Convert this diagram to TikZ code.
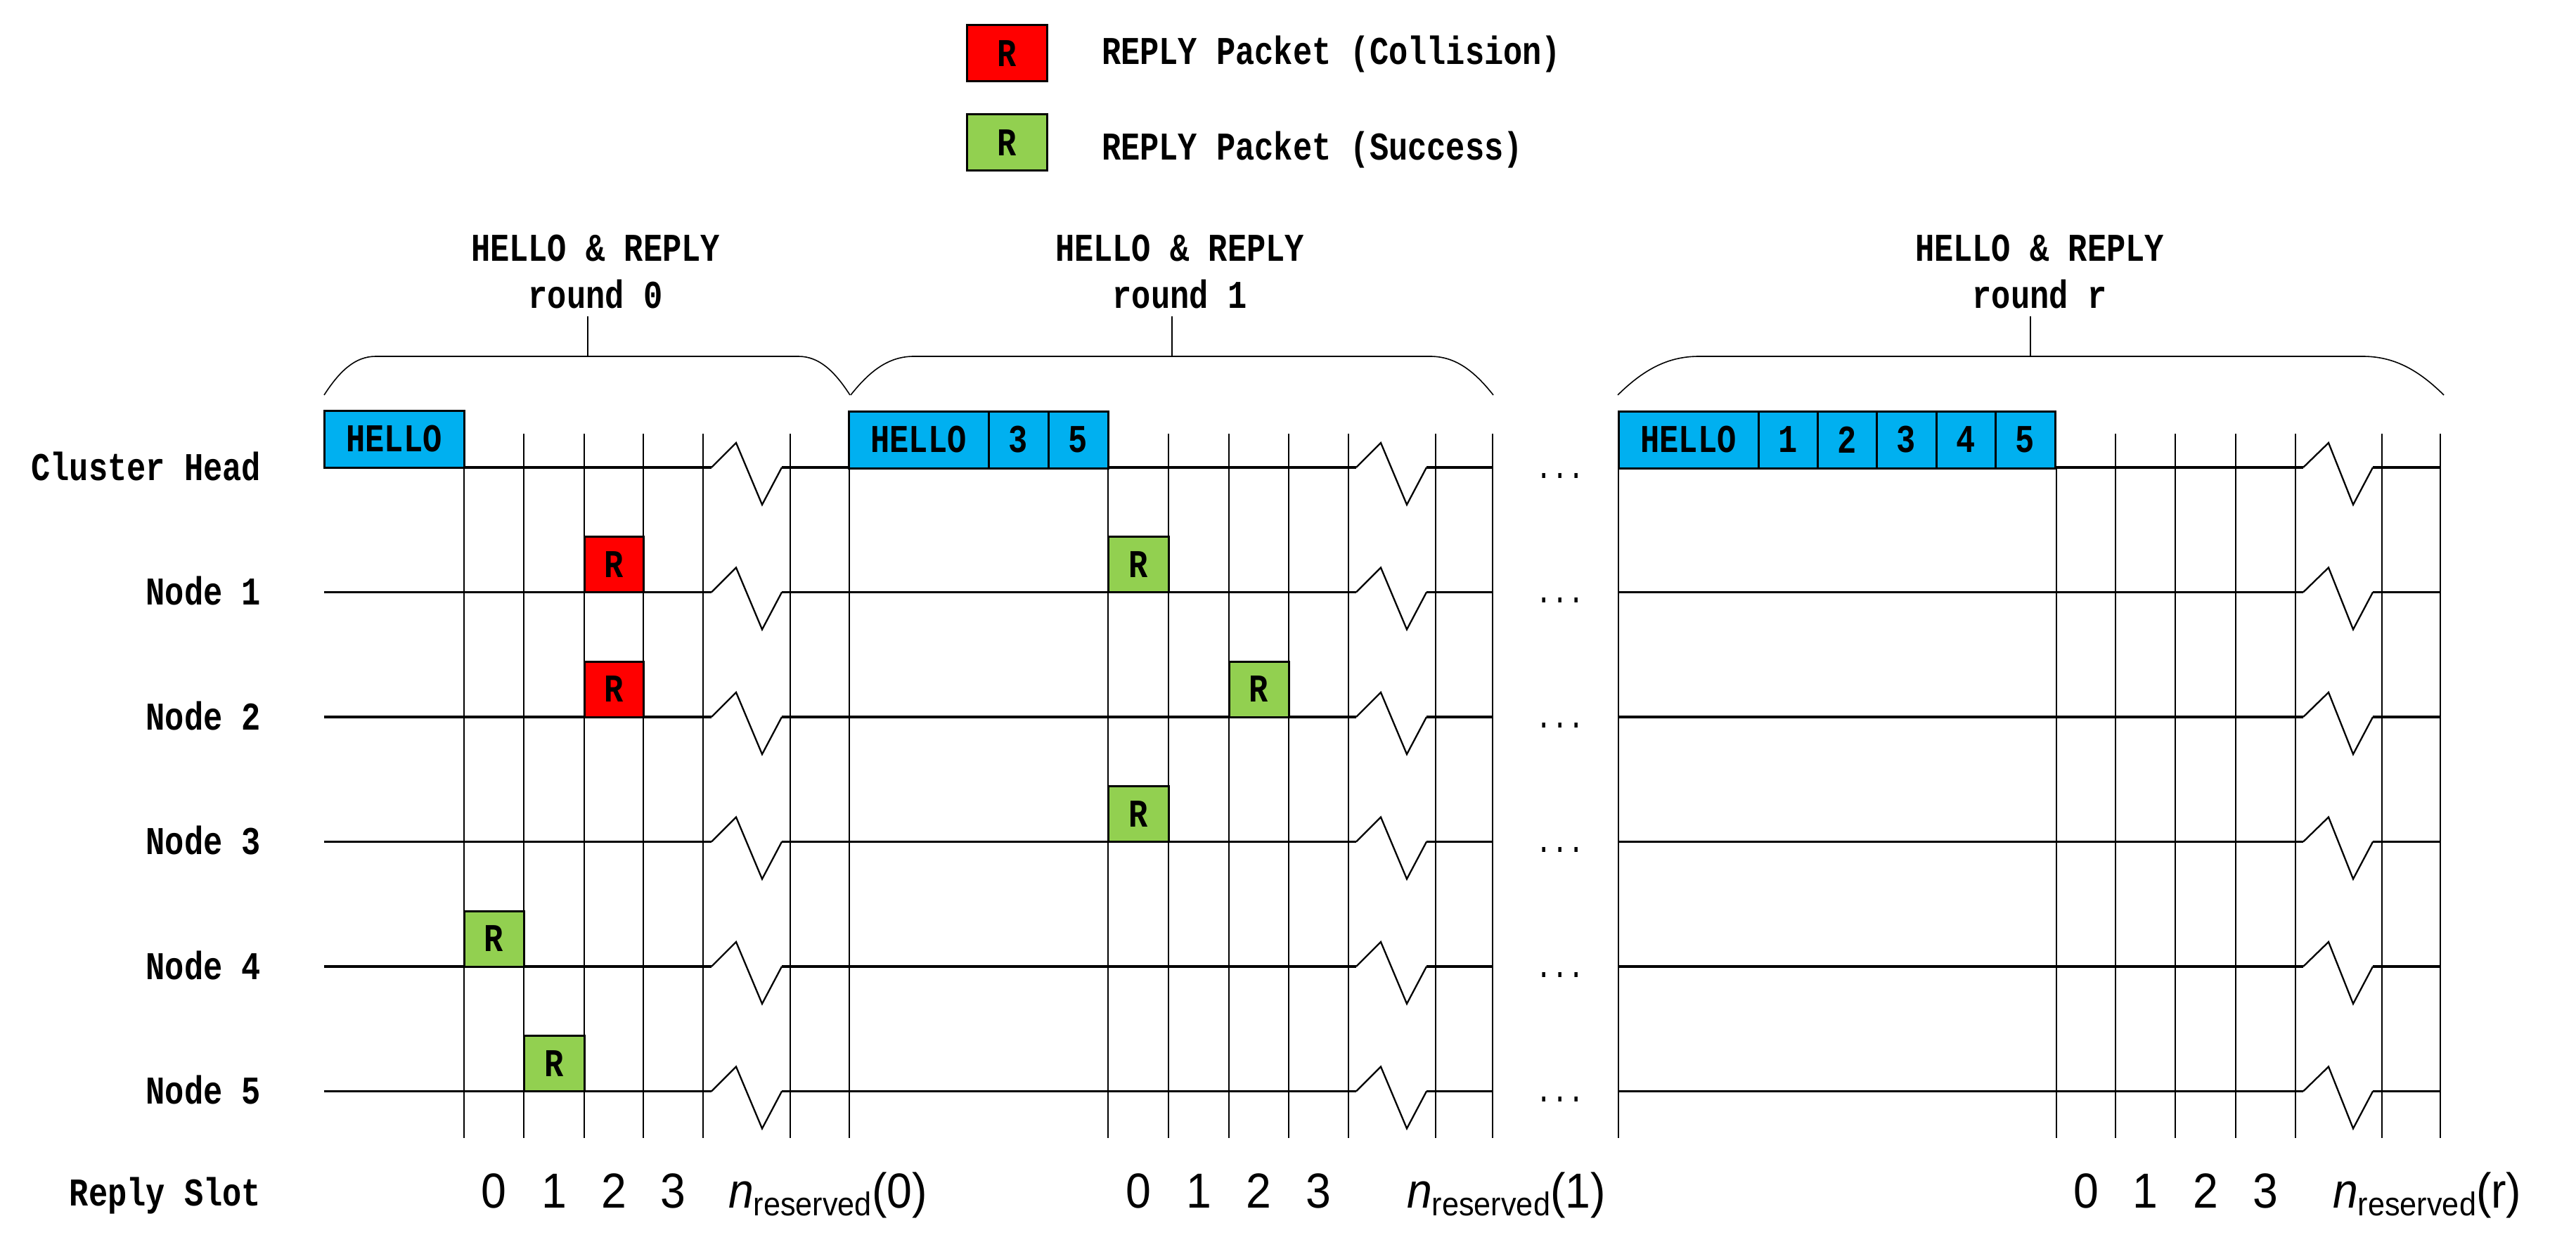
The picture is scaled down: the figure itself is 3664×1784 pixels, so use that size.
\documentclass[tikz,border=0pt]{standalone}
\usepackage{fontspec}
\newfontfamily\monof{Liberation Mono}[FakeStretch=0.81]
\newfontfamily\arlf{Liberation Sans}[FakeStretch=0.92]
\definecolor{hblue}{HTML}{00B0F0}
\definecolor{pred}{HTML}{FF0000}
\definecolor{pgreen}{HTML}{92D050}
\newcommand\roundbrace[3]{%
  \pgfmathsetmacro\dd{0.098*(#2-#1)}%
  \draw[bracel] (#1,562) .. controls ({#1+0.3*\dd},528) and ({#1+0.6*\dd},507) .. ({#1+\dd},507) -- ({#2-\dd},507) .. controls ({#2-0.6*\dd},507) and ({#2-0.3*\dd},528) .. (#2,562);
  \draw[bracel] (#3,450) -- (#3,507);}
\begin{document}
\begin{tikzpicture}[x=1pt,y=-1pt,
  txt/.style={font=\monof\bfseries\fontsize{56}{62}\selectfont, inner sep=0pt, outer sep=0pt},
  dig/.style={font=\arlf\fontsize{70}{72}\selectfont, inner sep=0pt, outer sep=0pt},
  hline/.style={line width=3.2pt},
  vline/.style={line width=2.6pt},
  zig/.style={line width=2.3pt, line join=miter},
  bracel/.style={line width=1.6pt},
  cell/.style={draw, line width=3pt, fill=hblue, minimum height=81pt, minimum width=85pt, inner sep=0pt, outer sep=0pt, anchor=south west, txt},
  pkt/.style={draw, line width=3pt, minimum height=79pt, minimum width=85pt, inner sep=0pt, outer sep=0pt, anchor=south west, txt},
  dotsl/.style={font=\monof\fontsize{48}{48}\selectfont, inner sep=0pt, anchor=base}
]
\useasboundingbox (0,0) rectangle (3664,1784);

% legend
\node[pkt, fill=pred, minimum width=114pt, minimum height=80pt, anchor=north west] (legred) at (1375,36) {R};
\node[pkt, fill=pgreen, minimum width=114pt, minimum height=80pt, anchor=north west] (leggreen) at (1375,163) {R};
\node[txt, anchor=base west] (legtxt1) at (1567,92) {REPLY Packet (Collision)};
\node[txt, anchor=base west] (legtxt2) at (1567,228) {REPLY Packet (Success)};

% titles
\node[txt, anchor=base] (t0a) at (847,372) {HELLO \& REPLY};
\node[txt, anchor=base] (t0b) at (847,438) {round 0};
\node[txt, anchor=base] (t1a) at (1678,372) {HELLO \& REPLY};
\node[txt, anchor=base] (t1b) at (1678,438) {round 1};
\node[txt, anchor=base] (tra) at (2901,372) {HELLO \& REPLY};
\node[txt, anchor=base] (trb) at (2901,438) {round r};

% braces
\roundbrace{461}{1209}{836}
\roundbrace{1210}{2124}{1667}
\roundbrace{2301}{3476}{2888}

% row labels
\node[txt, anchor=base east] (lch) at (371,683) {Cluster Head};
\node[txt, anchor=base east] (ln1) at (371,860.5) {Node 1};
\node[txt, anchor=base east] (ln2) at (371,1038) {Node 2};
\node[txt, anchor=base east] (ln3) at (371,1215.5) {Node 3};
\node[txt, anchor=base east] (ln4) at (371,1393) {Node 4};
\node[txt, anchor=base east] (ln5) at (371,1570.5) {Node 5};
\node[txt, anchor=base east] (lrs) at (371,1715) {Reply Slot};

% horizontal lines with zigzags
\foreach \y in {665,842.5,1020,1197.5,1375,1552.5} {
  \draw[hline] (461,\y) -- (1012,\y);
  \draw[zig] (1012,\y) -- (1047,{\y-35}) -- (1084,{\y+53}) -- (1112,\y);
  \draw[hline] (1112,\y) -- (1929,\y);
  \draw[zig] (1929,\y) -- (1964,{\y-35}) -- (2001,{\y+53}) -- (2029,\y);
  \draw[hline] (2029,\y) -- (2123,\y);
  \draw[hline] (2302,\y) -- (3276,\y);
  \draw[zig] (3276,\y) -- (3312,{\y-35}) -- (3347,{\y+53}) -- (3375,\y);
  \draw[hline] (3375,\y) -- (3471,\y);
  \node[dotsl] at (2219,{\y+15}) {...};
}

% vertical lines
\foreach \x in {745,831,915,1000,1124,1208,1662,1748,1833,1918,2042,2123,3009,3094,3180,3265,3388,3471}
  \draw[vline] (\x,617) -- (\x,1619);
\foreach \x in {660,1576,2302,2925}
  \draw[vline] (\x,666) -- (\x,1619);

% HELLO boxes
\node[cell, minimum width=199pt] (h0) at (461,665) {HELLO};
\node[cell, minimum width=199pt] (h1) at (1207,666) {HELLO};
\node[cell] (h1c3) at (h1.south east) {3};
\node[cell] (h1c5) at (h1c3.south east) {5};
\node[cell, minimum width=199pt] (hr) at (2302,666) {HELLO};
\node[cell, minimum width=84pt] (hrc1) at (hr.south east) {1};
\node[cell, minimum width=84pt] (hrc2) at (hrc1.south east) {2};
\node[cell, minimum width=85pt] (hrc3) at (hrc2.south east) {3};
\node[cell, minimum width=84pt] (hrc4) at (hrc3.south east) {4};
\node[cell, minimum width=85pt] (hrc5) at (hrc4.south east) {5};

% packets round 0
\node[pkt, fill=pred, minimum width=84pt] (p0n1) at (831,842.5) {R};
\node[pkt, fill=pred, minimum width=84pt] (p0n2) at (831,1020) {R};
\node[pkt, fill=pgreen] (p0n4) at (660,1375) {R};
\node[pkt, fill=pgreen, minimum width=86pt] (p0n5) at (745,1552.5) {R};
% packets round 1
\node[pkt, fill=pgreen, minimum width=86pt] (p1n1) at (1576,842.5) {R};
\node[pkt, fill=pgreen] (p1n2) at (1748,1020) {R};
\node[pkt, fill=pgreen, minimum width=86pt] (p1n3) at (1576,1197.5) {R};

% reply slot labels
\foreach \x/\d in {702.5/0,788/1,873/2,957.5/3,1619/0,1705/1,1790.5/2,1875.5/3,2967/0,3051.5/1,3137/2,3222.5/3}
  \node[dig, anchor=base] at (\x,1718) {\d};
\node[dig, anchor=base west] (nr0) at (1036,1718) {\textit{n}\raisebox{-11pt}{\fontsize{47}{47}\selectfont reserved}(0)};
\node[dig, anchor=base west] (nr1) at (2001,1718) {\textit{n}\raisebox{-11pt}{\fontsize{47}{47}\selectfont reserved}(1)};
\node[dig, anchor=base west] (nrr) at (3318,1718) {\textit{n}\raisebox{-11pt}{\fontsize{47}{47}\selectfont reserved}(r)};
\end{tikzpicture}
\end{document}
